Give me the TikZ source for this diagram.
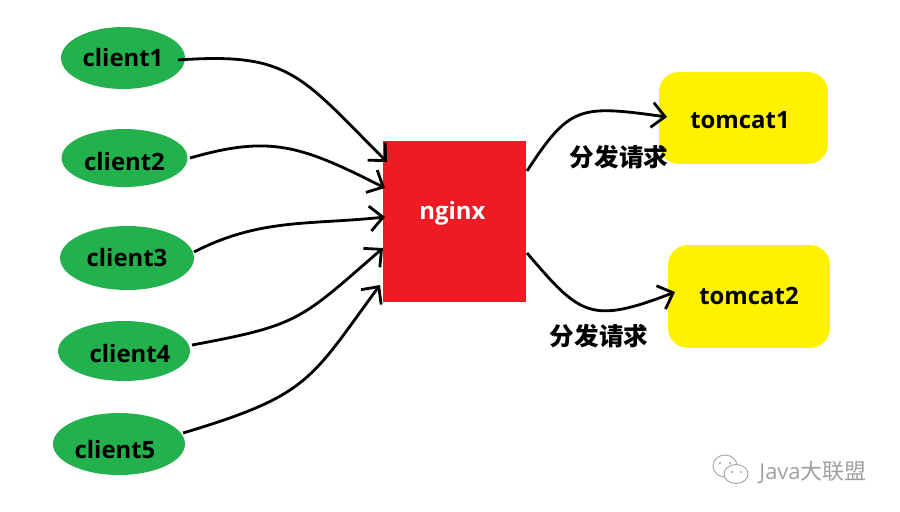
\documentclass[tikz,border=0pt]{standalone}
\usepackage{fontspec}
\usepackage{tikz}
\usetikzlibrary{arrows.meta,shapes.geometric}
\setmainfont{Open Sans}
\newfontfamily\cjkfont{Noto Sans CJK SC}
\definecolor{clientgreen}{HTML}{22B14C}
\definecolor{tomcatyellow}{HTML}{FFF200}
\definecolor{nginxred}{HTML}{ED1C24}
\definecolor{markgray}{HTML}{A0A0A0}
\begin{document}
\begin{tikzpicture}[x=0.02cm,y=-0.02cm,
client/.style={ellipse,fill=clientgreen,inner sep=0pt},
tomcat/.style={fill=tomcatyellow,rounded corners=0.4cm,inner sep=0pt},
boxtext/.style={font=\bfseries\fontsize{13.6}{15}\selectfont},
flow/.style={line width=1.6pt,-{Straight Barb[length=2.6mm,width=5mm,line width=1.6pt]}},
cjktext/.style={font=\cjkfont\bfseries\fontsize{14}{16}\selectfont}]
\useasboundingbox (0,0) rectangle (900,511);
\node[client,minimum width=2.48cm,minimum height=1.24cm,label={[boxtext]center:client1}] (client1) at (123,58) {};
\node[client,minimum width=2.52cm,minimum height=1.16cm,label={[boxtext,yshift=-0.08cm]center:client2}] (client2) at (124.5,158) {};
\node[client,minimum width=2.68cm,minimum height=1.28cm,label={[boxtext]center:client3}] (client3) at (127,258) {};
\node[client,minimum width=2.64cm,minimum height=1.2cm,label={[boxtext,xshift=0.12cm,yshift=-0.06cm]center:client4}] (client4) at (124,351) {};
\node[client,minimum width=2.64cm,minimum height=1.24cm,label={[boxtext,xshift=-0.08cm,yshift=-0.12cm]center:client5}] (client5) at (119,444) {};
\node[fill=nginxred,text=white,minimum width=2.86cm,minimum height=3.22cm,inner sep=0pt,label={[boxtext,text=white,xshift=-0.04cm,yshift=0.16cm]center:nginx}] (nginx) at (454.5,221.5) {};
\node[tomcat,minimum width=3.38cm,minimum height=1.84cm,label={[boxtext,yshift=-0.04cm,xshift=-0.07cm]center:tomcat1}] (tomcat1) at (743.5,118) {};
\node[tomcat,minimum width=3.24cm,minimum height=2.06cm,label={[boxtext,yshift=0.02cm]center:tomcat2}] (tomcat2) at (749,296.5) {};
\coordinate (in1) at (387,162);
\coordinate (in2) at (385,188);
\coordinate (in3) at (385,217);
\coordinate (in4) at (383,248);
\coordinate (in5) at (380,285);
\coordinate (out1) at (527,171);
\coordinate (out2) at (527,253);
\coordinate (end1) at (667,117);
\coordinate (end2) at (675,292);
\draw[flow] (178,60) .. controls (290,52) and (300,75) .. (in1);
\draw[flow] (190,158) .. controls (270,135) and (300,145) .. (in2);
\draw[flow] (194,252) .. controls (260,218) and (310,225) .. (in3);
\draw[flow] (192,345) .. controls (300,325) and (300,320) .. (in4);
\draw[flow] (183,433) .. controls (310,395) and (310,380) .. (in5);
\draw[flow] (out1) .. controls (570,105) and (580,105) .. (end1);
\draw[flow] (out2) .. controls (580,315) and (590,325) .. (end2);
\node[cjktext] (label1) at (619,157) {分发请求};
\node[cjktext] (label2) at (599,336) {分发请求};
% watermark
\begin{scope}[markgray,line width=0.5pt]
\draw[fill=white] (725,466) ellipse (12 and 11);
\draw[fill=white] (736,474) ellipse (12 and 9.5);
\fill (720,463) circle (1.2) (730,463) circle (1.2) (732,472) circle (1.2) (741,472) circle (1.2);
\end{scope}
\node[text=markgray,font=\fontsize{12.5}{14}\selectfont,inner sep=0pt] (mark) at (813,472) {Java{\cjkfont 大联盟}};
\end{tikzpicture}
\end{document}
